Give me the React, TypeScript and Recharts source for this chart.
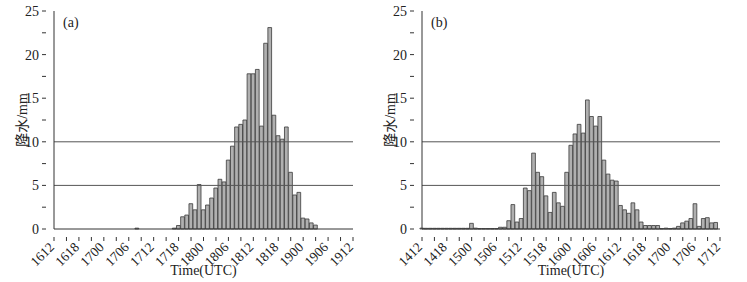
import React from 'react';
import { BarChart, Bar, XAxis, YAxis, ReferenceLine } from 'recharts';

// hour index since start (0..72)
const hours: number[] = [
  0, 1, 2, 3, 4, 5, 6, 7, 8, 9, 10, 11, 12, 13, 14, 15, 16, 17, 18, 19, 20, 21, 22, 23, 24,
  25, 26, 27, 28, 29, 30, 31, 32, 33, 34, 35, 36, 37, 38, 39, 40, 41, 42, 43, 44, 45, 46, 47, 48,
  49, 50, 51, 52, 53, 54, 55, 56, 57, 58, 59, 60, 61, 62, 63, 64, 65, 66, 67, 68, 69, 70, 71, 72,
];

const rainA: number[] = [
  0, 0, 0, 0, 0, 0, 0, 0, 0, 0,
  0, 0, 0, 0, 0, 0, 0, 0, 0, 0,
  0.1, 0, 0, 0, 0, 0, 0, 0, 0, 0.1,
  0.4, 1.4, 1.6, 2.9, 2.2, 5.1, 2.2, 2.75, 3.55, 4.7,
  5.7, 5.4, 7.9, 9.5, 11.7, 12.0, 12.5, 17.8, 17.8, 18.3,
  11.8, 21.3, 23.1, 13.05, 10.7, 10.3, 11.7, 6.5, 3.9, 4.2,
  1.25, 1.15, 0.7, 0.45, 0, 0, 0, 0, 0, 0,
  0, 0, 0,
];

const rainB: number[] = [
  0.1, 0.08, 0.08, 0.08, 0.08, 0.08, 0.08, 0.08, 0.08, 0.08,
  0.08, 0.08, 0.65, 0.1, 0.05, 0.05, 0.05, 0.05, 0.05, 0.2,
  0.2, 0.95, 2.8, 0.8, 1.2, 4.7, 4.4, 8.7, 6.5, 6.0,
  3.8, 1.9, 4.2, 3.0, 2.6, 6.5, 9.6, 10.9, 12.0, 11.0,
  14.8, 12.9, 11.8, 12.9, 7.9, 6.3, 5.6, 5.5, 2.7, 2.2,
  1.8, 3.0, 2.2, 0.8, 0.4, 0.4, 0.4, 0.4, 0.05, 0.1,
  0.05, 0.1, 0.3, 0.7, 0.9, 1.2, 2.9, 0.3, 1.2, 1.3,
  0.7, 0.75, 0,
];

const labelsA: string[] = ['1612', '1618', '1700', '1706', '1712', '1718', '1800', '1806', '1812', '1818', '1900', '1906', '1912'];
const labelsB: string[] = ['1412', '1418', '1500', '1506', '1512', '1518', '1600', '1606', '1612', '1618', '1700', '1706', '1712'];

const xTicks: number[] = [0, 3, 6, 9, 12, 15, 18, 21, 24, 27, 30, 33, 36, 39, 42, 45, 48, 51, 54, 57, 60, 63, 66, 69, 72];
const yTicks: number[] = [0, 2.5, 5, 7.5, 10, 12.5, 15, 17.5, 20, 22.5, 25];
const gridLevels: number[] = [5, 10];

const FONT = '"Liberation Serif", "Times New Roman", "Noto Sans CJK SC", serif';
const TEXT = '#222';
const AXIS = '#333';
const FS = 14;

const makeXTick = (labels: string[]) => (props: any) => {
  const { x, y, payload } = props;
  const v = payload.value as number;
  const major = v % 6 === 0;
  const ax = x + 1;
  const ay = y + 11;
  return (
    <g>
      <line x1={x} y1={y} x2={x} y2={y + 4} stroke={AXIS} strokeWidth={1} />
      {major && (
        <text
          x={ax}
          y={ay}
          textAnchor="end"
          fontSize={13.5}
          fontFamily={FONT}
          fill={TEXT}
          transform={`rotate(-45 ${ax} ${ay})`}
        >
          {labels[v / 6]}
        </text>
      )}
    </g>
  );
};

const YTick = (props: any) => {
  const { x, y, payload } = props;
  const v = payload.value as number;
  const major = v % 5 === 0;
  return (
    <g>
      <line x1={x - 4} y1={y} x2={x} y2={y} stroke={AXIS} strokeWidth={1} />
      {major && (
        <text x={x - 7} y={y + 5} textAnchor="end" fontSize={FS} fontFamily={FONT} fill={TEXT}>
          {v}
        </text>
      )}
    </g>
  );
};

const YLabel = (props: any) => {
  const vb = props.viewBox;
  const cx = vb.x + vb.width - 32;
  const cy = vb.y + vb.height / 2;
  return (
    <text
      x={cx}
      y={cy}
      textAnchor="middle"
      dominantBaseline="central"
      fontSize={FS}
      fontFamily={FONT}
      fill={TEXT}
      transform={`rotate(-90 ${cx} ${cy})`}
    >
      降水/mm
    </text>
  );
};

const XLabel = (props: any) => {
  const vb = props.viewBox;
  return (
    <text x={vb.x + vb.width / 2} y={vb.y + 46} textAnchor="middle" fontSize={FS} fontFamily={FONT} fill={TEXT}>
      Time(UTC)
    </text>
  );
};

type PanelProps = {
  values: number[];
  labels: string[];
  tag: string;
  width: number;
  yAxisWidth: number;
  rightMargin: number;
  left: number;
};

const Panel = ({ values, labels, tag, width, yAxisWidth, rightMargin, left }: PanelProps) => {
  const data = hours.map((h, i) => ({ hour: h, rain: values[i] }));
  const plotW = width - yAxisWidth - rightMargin;
  const barSize = plotW / 72;
  return (
    <div style={{ position: 'absolute', left, top: 0, width, height: 282 }}>
      <BarChart
        width={width}
        height={282}
        data={data}
        margin={{ top: 11, right: rightMargin, bottom: 0, left: 0 }}
        barCategoryGap={0}
      >
        <XAxis
          dataKey="hour"
          type="number"
          domain={[0, 72]}
          ticks={xTicks}
          interval={0}
          height={53}
          tickLine={false}
          axisLine={{ stroke: AXIS, strokeWidth: 1 }}
          tick={makeXTick(labels)}
          label={<XLabel />}
        />
        <YAxis
          type="number"
          domain={[0, 25]}
          ticks={yTicks}
          interval={0}
          width={yAxisWidth}
          tickLine={false}
          axisLine={{ stroke: AXIS, strokeWidth: 1 }}
          tick={<YTick />}
          label={<YLabel />}
        />
        {gridLevels.map((g) => (
          <ReferenceLine key={g} y={g} stroke="#555" strokeWidth={1} />
        ))}
        <Bar
          dataKey="rain"
          barSize={barSize}
          fill="#b0b0b0"
          stroke="#3a3a3a"
          strokeWidth={0.8}
          isAnimationActive={false}
        />
      </BarChart>
      <div
        style={{
          position: 'absolute',
          left: yAxisWidth + 9,
          top: 15,
          fontFamily: FONT,
          fontSize: FS,
          color: TEXT,
          lineHeight: '16px',
        }}
      >
        {tag}
      </div>
    </div>
  );
};

export default function App() {
  return (
    <div style={{ position: 'fixed', left: 0, top: 0, width: 747, height: 282, background: '#fff' }}>
      <Panel values={rainA} labels={labelsA} tag="(a)" width={370} yAxisWidth={54} rightMargin={17} left={0} />
      <Panel values={rainB} labels={labelsB} tag="(b)" width={377} yAxisWidth={52} rightMargin={27} left={370} />
    </div>
  );
}
